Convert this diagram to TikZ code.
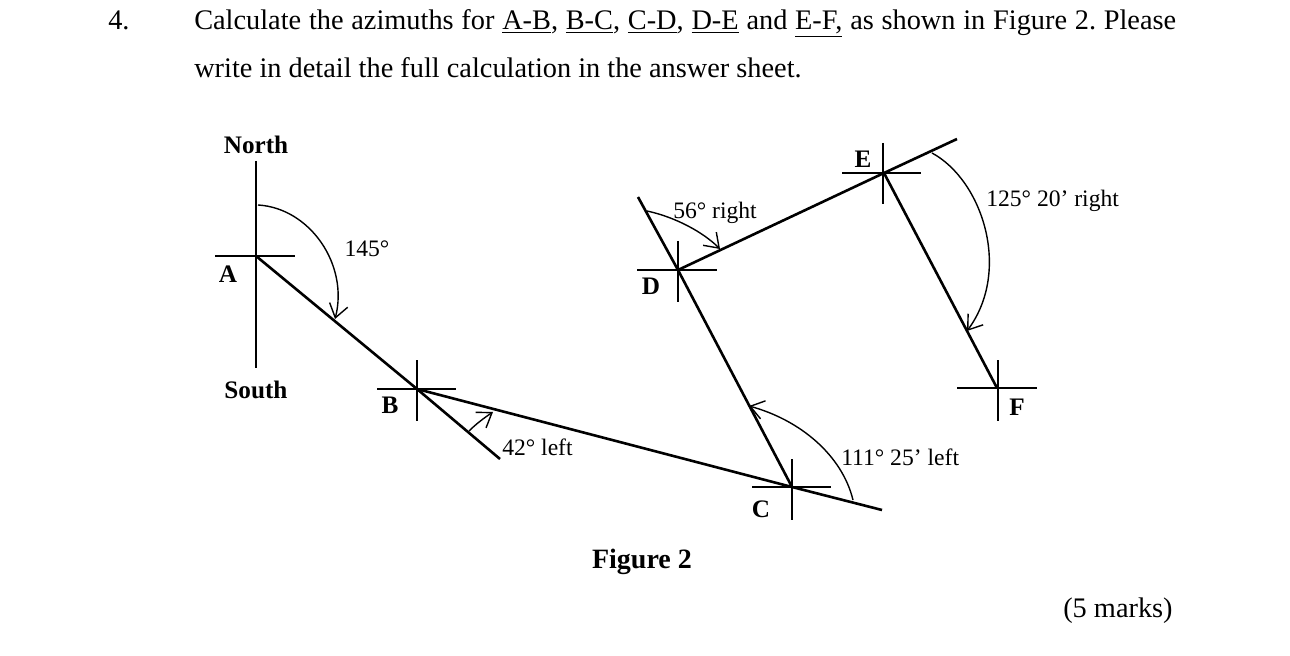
\documentclass[tikz,border=0pt]{standalone}
\usepackage{fontspec}
\setmainfont{Liberation Serif}
\usetikzlibrary{arrows.meta}
\tikzset{
  x=0.75pt,y=-0.75pt,
  main/.style={line width=1.95pt,black},
  tick/.style={line width=1.65pt,black},
  arc/.style={line width=1.05pt,black,-{Straight Barb[length=10pt,width=14pt,line width=1.05pt]}},
  body/.style={anchor=base west,inner sep=0pt,font=\fontsize{21.25}{24}\selectfont},
  lab/.style={anchor=base,inner sep=0pt,font=\fontsize{17.7}{20}\selectfont},
  blab/.style={anchor=base,inner sep=0pt,font=\fontsize{18.9}{20}\selectfont\bfseries},
}
\frenchspacing
\begin{document}
\begin{tikzpicture}
\useasboundingbox (0,0) rectangle (1290,656);
% stations
\coordinate (A) at (256,256);
\coordinate (B) at (417,389);
\coordinate (C) at (792,487);
\coordinate (D) at (678,270);
\coordinate (E) at (884,173);
\coordinate (F) at (997,388);
% free ends
\coordinate (BX) at (500,459);
\coordinate (CX) at (882,510);
\coordinate (DX) at (638,197);
\coordinate (EX) at (957,139);
% crosses
\draw[tick] (215,256) -- (295,256);
\draw[tick] (256,161) -- (256,368);
\draw[tick] (377,389) -- (456,389);
\draw[tick] (417,360) -- (417,421);
\draw[tick] (752,487) -- (831,487);
\draw[tick] (792,459) -- (792,520);
\draw[tick] (637,270) -- (717,270);
\draw[tick] (678,241) -- (678,302);
\draw[tick] (842,173) -- (921,173);
\draw[tick] (883,143) -- (883,204);
\draw[tick] (957,388) -- (1037,388);
\draw[tick] (998,360) -- (998,421);
% traverse
\draw[main] (A) -- (B) -- (BX);
\draw[main] (B) -- (C) -- (CX);
\draw[main] (C) -- (D) -- (DX);
\draw[main] (D) -- (E) -- (EX);
\draw[main] (E) -- (F);
% angle arcs
\draw[arc] (258,205) .. controls (310,208) and (349,265) .. (335,319);
\draw[arc] (469,431) .. controls (476,424) and (484,418) .. (493,412);
\draw[arc] (647,211) .. controls (675,217) and (703,232) .. (720,249);
\draw[arc] (853,500) .. controls (842,455) and (800,420) .. (749,406);
\draw[arc] (932,153) .. controls (982,180) and (1012,270) .. (967,331);
% text
\node[body] (n4) at (108,30) {4.};
\node[body] (l1) at (194,30) {\makebox[736.5pt][s]{Calculate the azimuths for \underline{A-B}, \underline{B-C}, \underline{C-D}, \underline{D-E} and \underline{E-F,} as shown in Figure 2. Please}};
\node[body] (l2) at (194,78) {write in detail the full calculation in the answer sheet.};
\node[blab] (north) at (256,154) {North};
\node[blab] (south) at (256,398) {South};
\node[blab] (la) at (228,283) {A};
\node[blab] (lb) at (390,413) {B};
\node[blab] (lc) at (761,517) {C};
\node[blab] (ld) at (651,295) {D};
\node[blab] (le) at (863,168) {E};
\node[blab] (lf) at (1017,415) {F};
\node[lab] (t145) at (367,257) {145°};
\node[lab,anchor=base west] (t42) at (502,455) {42° left};
\node[lab,anchor=base west] (t56) at (673,219) {56° right};
\node[lab,anchor=base west] (t111) at (841,465) {111° 25’ left};
\node[lab,anchor=base west] (t125) at (986,207) {125° 20’ right};
\node[blab,font=\fontsize{21}{24}\selectfont\bfseries] (fig) at (642,568) {Figure 2};
\node[body] (marks) at (1063,617) {(5 marks)};
\end{tikzpicture}
\end{document}
